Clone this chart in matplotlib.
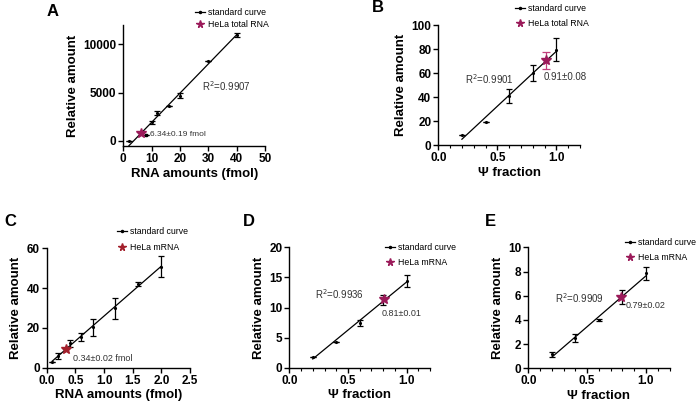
import numpy as np
import matplotlib.pyplot as plt
from matplotlib.lines import Line2D
from matplotlib.ticker import MultipleLocator

plt.rcParams['font.family'] = ['Liberation Sans', 'DejaVu Sans']

# Panel A: total RNA standard curve (RNA amount vs relative amount)
a_x = [2, 8, 10, 12, 16, 20, 30, 40]
a_y = [0, 620, 1930, 2860, 3620, 4700, 8270, 10960]
a_err = [0, 0, 150, 220, 0, 300, 0, 180]
a_star = (6.34, 790, 0)

# Panel B: total RNA psi fraction
b_x = [0.2, 0.4, 0.6, 0.8, 1.0]
b_y = [8.6, 19, 41, 60, 79.5]
b_err = [0, 0, 5.5, 6.5, 9.6]
b_star = (0.91, 70.5, 7.2)

# Panel C: mRNA standard curve
c_x = [0.1, 0.2, 0.4, 0.6, 0.8, 1.2, 1.6, 2.0]
c_y = [3.0, 5.9, 12.3, 15.6, 20.4, 29.8, 42.2, 50.8]
c_err = [0, 1.5, 1.7, 2.0, 4.3, 5.2, 1.0, 5.1]
c_star = (0.34, 9.5, 0)

# Panel D: mRNA psi fraction
d_x = [0.2, 0.4, 0.6, 0.8, 1.0]
d_y = [1.85, 4.3, 7.5, 11.2, 14.4]
d_err = [0, 0, 0.5, 0.8, 1.0]
d_star = (0.81, 11.4, 0)

# Panel E: mRNA psi fraction (second)
e_x = [0.2, 0.4, 0.6, 0.8, 1.0]
e_y = [1.15, 2.5, 4.0, 5.9, 7.85]
e_err = [0.2, 0.3, 0.1, 0.6, 0.55]
e_star = (0.785, 5.87, 0)

MAG = '#9b1b5a'
RED = '#a3202c'
TXT = '#333333'
W, H = 697, 405
TICK_FS = 8.5
LAB_FS = 9.5
LEG_FS = 6.3
ANN_FS = 6.5

fig = plt.figure(figsize=(W / 100, H / 100), dpi=100)


def px_axes(x0, x1, ytop, ybot):
    return fig.add_axes([x0 / W, 1 - ybot / H, (x1 - x0) / W, (ybot - ytop) / H])


def panel(ax, xs, ys, errs, star, scol, xlim, ylim, xmaj, ymaj, xminor,
          xlabel, star_ecol=None):
    fit = np.polyfit(xs, ys, 1)
    xl = np.array([xs[0], xs[-1]])
    ax.plot(xl, np.polyval(fit, xl), color='k', lw=0.9, zorder=2)
    ax.errorbar(xs, ys, yerr=errs, fmt='.', color='k', ms=2.5, elinewidth=0.9,
                capsize=2, capthick=0.9, zorder=3)
    if star[2] > 0:
        ax.errorbar([star[0]], [star[1]], yerr=[star[2]], fmt='none',
                    ecolor=star_ecol or scol, elinewidth=0.9, capsize=3,
                    capthick=0.9, zorder=4)
    ax.plot([star[0]], [star[1]], marker='*', color=scol, ms=7, ls='none',
            zorder=5)
    ax.set_xlim(*xlim)
    ax.set_ylim(*ylim)
    ax.xaxis.set_major_locator(MultipleLocator(xmaj))
    ax.yaxis.set_major_locator(MultipleLocator(ymaj))
    if xminor:
        ax.xaxis.set_minor_locator(MultipleLocator(xminor))
    for s in ('top', 'right'):
        ax.spines[s].set_visible(False)
    for s in ('left', 'bottom'):
        ax.spines[s].set_linewidth(1.0)
    ax.tick_params(which='major', length=3.5, width=1.0, pad=1.5,
                   labelsize=TICK_FS)
    ax.tick_params(which='minor', length=2, width=0.8)
    for lab in ax.get_xticklabels() + ax.get_yticklabels():
        lab.set_fontweight('bold')
    ax.set_xlabel(xlabel, fontsize=LAB_FS, fontweight='bold', labelpad=2)
    ax.set_ylabel('Relative amount', fontsize=LAB_FS, fontweight='bold',
                  labelpad=3)


def legend(ax, scol, starlabel, text_x, row1_y, row_gap):
    # place legend so its text starts at text_x (pixels), first row centred at row1_y
    handles = [Line2D([], [], color='k', lw=0.9, marker='.', ms=3),
               Line2D([], [], color=scol, marker='*', ms=5.5, ls='none')]
    fs_px = LEG_FS * 100 / 72
    hl, hp = 1.1, 0.35
    left = text_x - (hl + hp) * fs_px
    top = row1_y - fs_px * 0.55
    ax.legend(handles, ['standard curve', starlabel], loc='upper left',
              bbox_to_anchor=(left / W, 1 - top / H),
              bbox_transform=fig.transFigure, frameon=False, fontsize=LEG_FS,
              handlelength=hl, handletextpad=hp, borderpad=0,
              borderaxespad=0, labelspacing=(row_gap - fs_px) / fs_px)


def fmt_x(ax, decimals):
    ax.set_xticks(ax.get_xticks())
    ax.set_xticklabels([f'{t:.{decimals}f}' for t in ax.get_xticks()],
                       fontweight='bold')


def letter(s, x, y):
    fig.text(x / W, 1 - y / H, s, fontsize=12, fontweight='bold',
             va='center', ha='left')


# A
axA = px_axes(123.3, 265, 25, 146)
panel(axA, a_x, a_y, a_err, a_star, MAG, (0, 50), (-520, 12000),
      10, 5000, None, 'RNA amounts (fmol)')
axA.set_yticks([0, 5000, 10000])
axA.set_yticklabels(['0', '5000', '10000'], fontweight='bold')
axA.set_ylim(-520, 12000)
legend(axA, MAG, 'HeLa total RNA', 208, 13.3, 11)
axA.text(27.7, 5690, r'R$^2$=0.9907', fontsize=ANN_FS + 0.5, color=TXT,
         va='center')
axA.plot([8.0], [620], 's', color='k', ms=2)
axA.text(9.4, 680, '6.34±0.19 fmol', fontsize=ANN_FS - 0.5, color=TXT,
         va='center')
letter('A', 47, 11)

# B
axB = px_axes(438.3, 580, 25, 145.3)
panel(axB, b_x, b_y, b_err, b_star, MAG, (0, 1.2), (0, 100),
      0.5, 20, 0.1, 'Ψ fraction', star_ecol='#c0407c')
fmt_x(axB, 1)
axB.set_xlim(0, 1.2)
legend(axB, MAG, 'HeLa total RNA', 528, 9.3, 14.7)
axB.text(0.226, 55, r'R$^2$=0.9901', fontsize=ANN_FS + 0.5, color=TXT,
         va='center')
axB.text(0.89, 57, '0.91±0.08', fontsize=ANN_FS + 0.5, color=TXT, va='center')
letter('B', 372, 8)

# C
axC = px_axes(46.7, 190, 248.3, 367.7)
panel(axC, c_x, c_y, c_err, c_star, RED, (0, 2.5), (0, 60),
      0.5, 20, None, 'RNA amounts (fmol)')
fmt_x(axC, 1)
axC.set_xlim(0, 2.5)
legend(axC, RED, 'HeLa mRNA', 130, 232.3, 15)
axC.text(0.454, 4.4, '0.34±0.02 fmol', fontsize=ANN_FS, color=TXT,
         va='center')
letter('C', 4, 221)

# D
axD = px_axes(289.3, 430.2, 247.3, 367.7)
panel(axD, d_x, d_y, d_err, d_star, MAG, (0, 1.2), (0, 20),
      0.5, 5, 0.1, 'Ψ fraction')
fmt_x(axD, 1)
axD.set_xlim(0, 1.2)
legend(axD, MAG, 'HeLa mRNA', 398, 247.7, 14.6)
axD.text(0.219, 12.2, r'R$^2$=0.9936', fontsize=ANN_FS + 0.5, color=TXT,
         va='center')
axD.text(0.787, 9.0, '0.81±0.01', fontsize=ANN_FS, color=TXT, va='center')
letter('D', 243, 222)

# E
axE = px_axes(528.3, 669.5, 247.3, 368.3)
panel(axE, e_x, e_y, e_err, e_star, MAG, (0, 1.2), (0, 10),
      0.5, 2, 0.1, 'Ψ fraction')
fmt_x(axE, 1)
axE.set_xlim(0, 1.2)
legend(axE, MAG, 'HeLa mRNA', 638, 242.7, 15)
axE.text(0.227, 5.79, r'R$^2$=0.9909', fontsize=ANN_FS + 0.5, color=TXT,
         va='center')
axE.text(0.828, 5.23, '0.79±0.02', fontsize=ANN_FS, color=TXT, va='center')
letter('E', 485, 221)

fig.savefig('out.png', dpi=100)
